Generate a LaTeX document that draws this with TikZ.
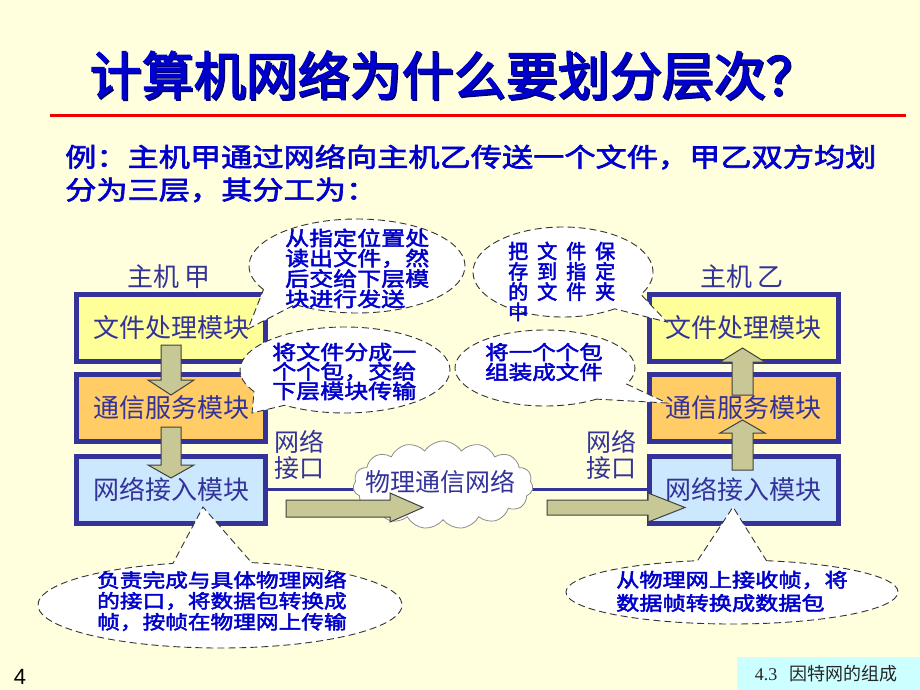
\documentclass[tikz,border=0pt]{standalone}
\usepackage{fontspec}
\newfontfamily\cjk{Noto Sans CJK SC}
\newfontfamily\cjkt[FakeBold=2]{Noto Sans CJK SC}
\newfontfamily\cjkw[FakeStretch=1.2,FakeBold=2.5]{Noto Sans CJK SC}
\newfontfamily\cjkb[FakeBold=2.5]{Noto Sans CJK SC}
\newfontfamily\libsans{Liberation Sans}
\newfontfamily\libserif{Liberation Serif}
\usetikzlibrary{shapes.symbols}
\definecolor{bgcol}{HTML}{FFFFDD}
\definecolor{titleblue}{HTML}{0000CC}
\definecolor{titleshadow}{HTML}{000066}
\definecolor{navy}{HTML}{333399}
\definecolor{boxyellow}{HTML}{FFFF99}
\definecolor{boxorange}{HTML}{FFCC66}
\definecolor{boxblue}{HTML}{CCE8FF}
\definecolor{khaki}{HTML}{C8C896}
\definecolor{labelcyan}{HTML}{CCFFFF}
\definecolor{redline}{HTML}{EE0000}
\begin{document}
\begin{tikzpicture}[x=1pt,y=-1pt,
  modbox/.style={draw=navy,line width=5pt,minimum width=189pt,minimum height=67pt,inner sep=0pt,text=navy,font=\cjk\fontsize{26}{28}\selectfont},
  blockarrow/.style={fill=khaki,draw=black!75,line width=1pt,line join=miter},
  callout/.style={fill=white,draw=black!80,line width=0.9pt,dash pattern=on 7pt off 4pt},
  ctext/.style={text=titleblue,anchor=west,inner sep=0pt,font=\cjkw\fontsize{#1}{#1}\selectfont},
  ctextn/.style={text=titleblue,anchor=west,inner sep=0pt,font=\cjkb\fontsize{#1}{#1}\selectfont},
  navytext/.style={text=navy,inner sep=0pt,font=\cjk\fontsize{#1}{#1}\selectfont},
  netline/.style={draw=navy,line width=3pt}]
\fill[bgcol] (0,0) rectangle (920,690);
\useasboundingbox (0,0) rectangle (920,690);

% title
\node[text=titleshadow,inner sep=0pt,font=\cjkt\fontsize{52}{52}\selectfont] (titleshadow) at (455,76.5) {计算机网络为什么要划分层次？};
\node[text=titleblue,inner sep=0pt,font=\cjkt\fontsize{52}{52}\selectfont] (title) at (453.5,75) {计算机网络为什么要划分层次？};
\draw[redline,line width=3pt] (50,116) -- (906,116);

% subtitle
\node[ctext=26] (sub1) at (65,157) {例：主机甲通过网络向主机乙传送一个文件，甲乙双方均划};
\node[ctext=26] (sub2) at (65,190) {分为三层，其分工为：};

% host labels
\node[navytext=26] (hostA) at (169,277) {主机 甲};
\node[navytext=26] (hostB) at (742,277) {主机 乙};

% network line
\node[modbox,fill=boxblue] (a3) at (171,489.5) {网络接入模块};
\node[modbox,fill=boxblue] (b3) at (743.5,489.5) {网络接入模块};
\draw[netline] (a3.east) -- (b3.west);
\node[modbox,fill=boxblue] at (a3) {网络接入模块};
\node[modbox,fill=boxblue] at (b3) {网络接入模块};

% boxes
\node[modbox,fill=boxyellow] (a1) at (171,328) {文件处理模块};
\node[modbox,fill=boxorange] (a2) at (171,407.5) {通信服务模块};
\node[modbox,fill=boxyellow] (b1) at (743.5,328) {文件处理模块};
\node[modbox,fill=boxorange] (b2) at (743.5,407.5) {通信服务模块};

% interface labels
\node[navytext=25] (ifA1) at (299,442) {网络};
\node[navytext=25] (ifA2) at (299,468) {接口};
\node[navytext=25] (ifB1) at (611,442) {网络};
\node[navytext=25] (ifB2) at (611,468) {接口};

% vertical block arrows
\draw[blockarrow] (161,345) -- (181,345) -- (181,380) -- (194,380) -- (171,395) -- (148,380) -- (161,380) -- cycle;
\draw[blockarrow] (161,427) -- (181,427) -- (181,465) -- (194,465) -- (171,478) -- (148,465) -- (161,465) -- cycle;
\draw[blockarrow] (732,395) -- (753,395) -- (753,362) -- (765,362) -- (742.5,348) -- (720,362) -- (732,362) -- cycle;
\draw[blockarrow] (732,470) -- (753,470) -- (753,433) -- (765,433) -- (742.5,420) -- (720,433) -- (732,433) -- cycle;

% cloud
\node[cloud,cloud puffs=15,cloud puff arc=115,cloud ignores aspect,draw=black!45,line width=0.8pt,fill=white,minimum width=180pt,minimum height=88pt] (cloud) at (443,485) {};

% horizontal block arrows
\draw[blockarrow] (286,500) -- (390,500) -- (390,493) -- (423,507.5) -- (390,522) -- (390,517) -- (286,517) -- cycle;
\draw[blockarrow] (547,500) -- (648,500) -- (648,493) -- (685,507.5) -- (648,522) -- (648,515) -- (547,515) -- cycle;

\node[navytext=25] (cloudtext) at (440,482) {物理通信网络};

% callouts
\draw[callout] (357,266) ++(150:108 and 47) arc[start angle=150,end angle=485,x radius=108,y radius=47] -- (248,329) -- cycle;
\draw[callout] (345,370) ++(150:105 and 43) arc[start angle=150,end angle=485,x radius=105,y radius=43] -- (252,413) -- cycle;
\draw[callout] (563,272) ++(55:90 and 45) arc[start angle=55,end angle=390,x radius=90,y radius=45] -- (667,322) -- cycle;
\draw[callout] (545,368) ++(55:90 and 38) arc[start angle=55,end angle=385,x radius=90,y radius=38] -- (667,403) -- cycle;
\draw[callout] (220,605) ++(280:182 and 43) arc[start angle=280,end angle=615,x radius=182,y radius=43] -- (203,507) -- cycle;
\draw[callout] (732,592) ++(282:166 and 32) arc[start angle=282,end angle=618,x radius=166,y radius=32] -- (733,507) -- cycle;

% callout texts
\foreach \t [count=\i from 0] in {从指定位置处,读出文件，然,后交给下层模,块进行发送}
  \node[ctext=20] (ca\i) at (285,238+20.3*\i) {\t};
\foreach \t [count=\i from 0] in {将文件分成一,个个包，交给,下层模块传输}
  \node[ctext=20] (cb\i) at (272,352+19.5*\i) {\t};
\foreach \t [count=\i from 0] in {{\makebox[107pt][l]{把\hfill 文\hfill 件\hfill 保}},{\makebox[107pt][l]{存\hfill 到\hfill 指\hfill 定}},{\makebox[107pt][l]{的\hfill 文\hfill 件\hfill 夹}},中}
  \node[ctextn=20] (cc\i) at (508,251+20.3*\i) {\t};
\foreach \t [count=\i from 0] in {将一个个包,组装成文件}
  \node[ctext=19.6] (cd\i) at (485,352+20*\i) {\t};
\foreach \t [count=\i from 0] in {负责完成与具体物理网络,的接口，将数据包转换成,帧，按帧在物理网上传输}
  \node[ctext=18.9] (ce\i) at (97,580+21*\i) {\t};
\foreach \t [count=\i from 0] in {从物理网上接收帧，将,数据帧转换成数据包}
  \node[ctext=19.3] (cf\i) at (616,580+23*\i) {\t};

% footer
\node[inner sep=0pt,font=\libsans\fontsize{22}{22}\selectfont] (pnum) at (20,677) {4};
\fill[labelcyan] (737,657) rectangle (920,690);
\node[inner sep=0pt,text=black!85,font=\cjk\fontsize{18}{18}\selectfont] (footer) at (826,674) {{\libserif 4.3}\hspace{12pt}因特网的组成};
\end{tikzpicture}
\end{document}
